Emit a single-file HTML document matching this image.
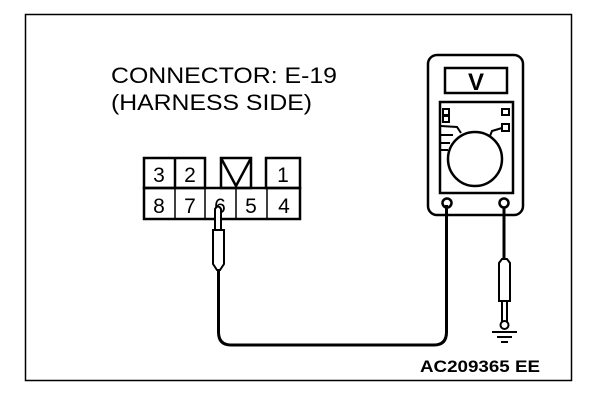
<!DOCTYPE html>
<html><head><style>
html,body{margin:0;padding:0;background:#fff;}
svg{display:block;}
text{font-family:"Liberation Sans",Arial,sans-serif;}
</style></head><body>
<svg width="608" height="400" viewBox="0 0 608 400" xmlns="http://www.w3.org/2000/svg">
<rect x="25.5" y="14.5" width="546" height="366" fill="none" stroke="#000" stroke-width="1.5"/>
<text x="111" y="83" font-size="22.5" textLength="226" lengthAdjust="spacingAndGlyphs">CONNECTOR: E-19</text>
<text x="111" y="110" font-size="22.5" textLength="201" lengthAdjust="spacingAndGlyphs">(HARNESS SIDE)</text>
<!-- connector -->
<g fill="none" stroke="#000" stroke-width="2.5">
<rect x="144" y="158" width="61" height="30"/>
<line x1="175" y1="158" x2="175" y2="188"/>
<rect x="221" y="158" width="30" height="30"/>
<polyline points="221,158 236,186 251,158"/>
<rect x="266" y="158" width="34" height="30"/>
<rect x="144" y="188" width="156" height="31"/>
<line x1="175" y1="188" x2="175" y2="219" stroke-width="1.5"/>
<line x1="205" y1="188" x2="205" y2="219" stroke-width="1.5"/>
<line x1="236" y1="188" x2="236" y2="219" stroke-width="1.5"/>
<line x1="267" y1="188" x2="267" y2="219" stroke-width="1.5"/>
</g>
<g font-size="21" text-anchor="middle">
<text x="159" y="182">3</text><text x="190" y="182">2</text><text x="283" y="182">1</text>
<text x="159" y="213">8</text><text x="190" y="213">7</text><text x="220" y="213">6</text><text x="251" y="213">5</text><text x="284" y="213">4</text>
</g>
<!-- left probe -->
<g fill="#fff" stroke="#000" stroke-width="2">
<path d="M215,230 V209 Q218,204 221,209 V230"/>
<path d="M213,230 H224 V264 L220,270 H217 L213,264 Z"/>
</g>
<path d="M218.5,270 V332 Q218.5,345 231,345 H434 Q446.5,345 446.5,332 V205" fill="none" stroke="#000" stroke-width="3"/>
<!-- meter -->
<g fill="none" stroke="#000" stroke-width="2.5">
<rect x="428" y="55" width="95" height="160" rx="9"/>
<rect x="445" y="68" width="62" height="25"/>
<rect x="440" y="102" width="73" height="91"/>
<circle cx="475" cy="159" r="27"/>
</g>
<text x="476" y="90" font-size="24" font-family="Liberation Serif" font-weight="bold" text-anchor="middle">V</text>
<g fill="none" stroke="#000" stroke-width="2">
<rect x="443" y="109" width="6" height="6"/><rect x="443" y="116" width="6" height="6"/>
<rect x="502" y="109" width="7" height="6"/><rect x="502" y="124" width="7" height="7"/>
<polyline points="490,136 492,131 502,128"/>
<polyline points="441,126 457,127 461,133"/>
<line x1="441" y1="135" x2="453" y2="135"/>
<line x1="441" y1="143" x2="450" y2="143"/>
<line x1="441" y1="150" x2="448" y2="150"/>
<circle cx="447" cy="203" r="4.5" stroke-width="2.5"/>
<circle cx="504" cy="203" r="4.5" stroke-width="2.5"/>
</g>
<line x1="504" y1="207" x2="504" y2="262" stroke="#000" stroke-width="3"/>
<g fill="#fff" stroke="#000" stroke-width="2">
<path d="M499,263 L502,259 H507 L510,263 V301 H499 Z"/>
<path d="M502,301 V322 M507,301 V322"/>
<circle cx="504.5" cy="325" r="4"/>
</g>
<g stroke="#000" stroke-width="2">
<line x1="492" y1="332" x2="517" y2="332"/>
<line x1="497" y1="337" x2="512" y2="337"/>
<line x1="501" y1="342" x2="508" y2="342"/>
</g>
<text x="420" y="372" font-size="17" font-weight="bold" textLength="120" lengthAdjust="spacingAndGlyphs">AC209365 EE</text>
</svg>
</body></html>
